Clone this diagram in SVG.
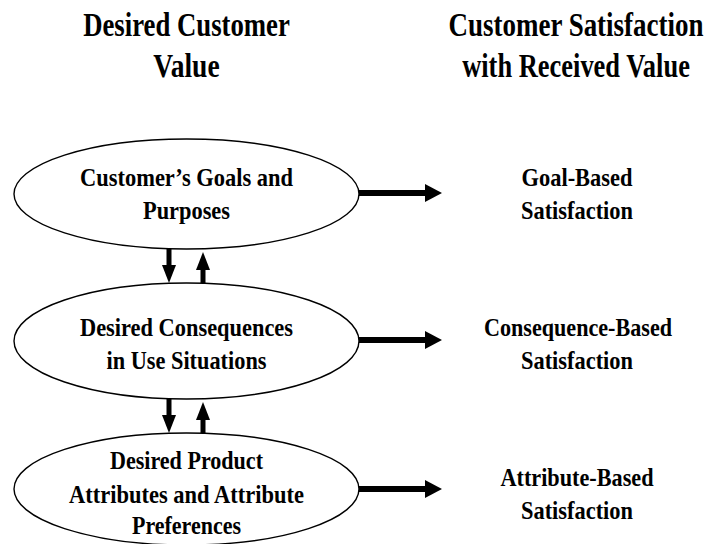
<svg xmlns="http://www.w3.org/2000/svg" width="708" height="544" viewBox="0 0 708 544">
  <style>
    .t { font-family: "Liberation Serif", "Times New Roman", serif; font-weight: bold; fill: #000; text-anchor: middle; }
    .h { font-size: 34px; }
    .b { font-size: 26px; }
    .node ellipse { fill: #fff; stroke: #000; stroke-width: 1.4; }
    .wide { stroke: #000; stroke-width: 6; fill: none; }
    .thin { stroke: #000; stroke-width: 5; fill: none; }
  </style>
  <defs>
    <marker id="headR" markerUnits="userSpaceOnUse" markerWidth="18" markerHeight="18" viewBox="0 0 18 18" refX="0" refY="9" orient="auto">
      <path d="M0,0 L17,9 L0,18 Z" fill="#000"/>
    </marker>
    <marker id="headV" markerUnits="userSpaceOnUse" markerWidth="18" markerHeight="16" viewBox="0 0 18 16" refX="0" refY="8" orient="auto">
      <path d="M0,1 L18,8 L0,15 Z" fill="#000"/>
    </marker>
  </defs>
  <rect width="708" height="544" fill="#fff"/>

  <!-- column headings (condensed bold serif) -->
  <g id="heading-left">
    <text class="t h" transform="translate(186.5 36) scale(0.78 1)" x="0" y="0" textLength="265" lengthAdjust="spacingAndGlyphs">Desired Customer</text>
    <text class="t h" transform="translate(186.5 77) scale(0.78 1)" x="0" y="0" textLength="85" lengthAdjust="spacingAndGlyphs">Value</text>
  </g>
  <g id="heading-right">
    <text class="t h" transform="translate(576 36) scale(0.78 1)" x="0" y="0" textLength="327" lengthAdjust="spacingAndGlyphs">Customer Satisfaction</text>
    <text class="t h" transform="translate(576 77) scale(0.78 1)" x="0" y="0" textLength="292" lengthAdjust="spacingAndGlyphs">with Received Value</text>
  </g>

  <!-- value hierarchy -->
  <g id="goals" class="node">
    <ellipse cx="186.5" cy="194" rx="172.5" ry="55"/>
    <text class="t b" x="186.5" y="186" textLength="213" lengthAdjust="spacingAndGlyphs">Customer’s Goals and</text>
    <text class="t b" x="186.5" y="219" textLength="87" lengthAdjust="spacingAndGlyphs">Purposes</text>
  </g>
  <g id="consequences" class="node">
    <ellipse cx="186.5" cy="341" rx="172.5" ry="58"/>
    <text class="t b" x="186.5" y="336" textLength="213" lengthAdjust="spacingAndGlyphs">Desired Consequences</text>
    <text class="t b" x="186.5" y="369" textLength="160" lengthAdjust="spacingAndGlyphs">in Use Situations</text>
  </g>
  <g id="attributes" class="node">
    <ellipse cx="186.5" cy="489" rx="172.5" ry="56"/>
    <text class="t b" x="186.5" y="469" textLength="153" lengthAdjust="spacingAndGlyphs">Desired Product</text>
    <text class="t b" x="186.5" y="503" textLength="235" lengthAdjust="spacingAndGlyphs">Attributes and Attribute</text>
    <text class="t b" x="186.5" y="534" textLength="109" lengthAdjust="spacingAndGlyphs">Preferences</text>
  </g>

  <!-- satisfaction outcomes -->
  <g id="goal-satisfaction">
    <text class="t b" x="577" y="186" textLength="111" lengthAdjust="spacingAndGlyphs">Goal-Based</text>
    <text class="t b" x="577" y="219" textLength="112" lengthAdjust="spacingAndGlyphs">Satisfaction</text>
  </g>
  <g id="consequence-satisfaction">
    <text class="t b" x="578" y="336" textLength="188" lengthAdjust="spacingAndGlyphs">Consequence-Based</text>
    <text class="t b" x="577" y="369" textLength="112" lengthAdjust="spacingAndGlyphs">Satisfaction</text>
  </g>
  <g id="attribute-satisfaction">
    <text class="t b" x="577" y="486" textLength="153" lengthAdjust="spacingAndGlyphs">Attribute-Based</text>
    <text class="t b" x="577" y="519" textLength="112" lengthAdjust="spacingAndGlyphs">Satisfaction</text>
  </g>

  <!-- connectors -->
  <g id="connectors">
    <line class="wide" x1="359" y1="193" x2="425" y2="193" marker-end="url(#headR)"/>
    <line class="wide" x1="359" y1="340" x2="425" y2="340" marker-end="url(#headR)"/>
    <line class="wide" x1="359" y1="489" x2="425" y2="489" marker-end="url(#headR)"/>

    <line class="thin" x1="169" y1="249" x2="169" y2="265" marker-end="url(#headV)"/>
    <line class="thin" x1="203" y1="283" x2="203" y2="270" marker-end="url(#headV)"/>

    <line class="thin" x1="169" y1="399" x2="169" y2="415" marker-end="url(#headV)"/>
    <line class="thin" x1="203" y1="433" x2="203" y2="420" marker-end="url(#headV)"/>
  </g>
</svg>
